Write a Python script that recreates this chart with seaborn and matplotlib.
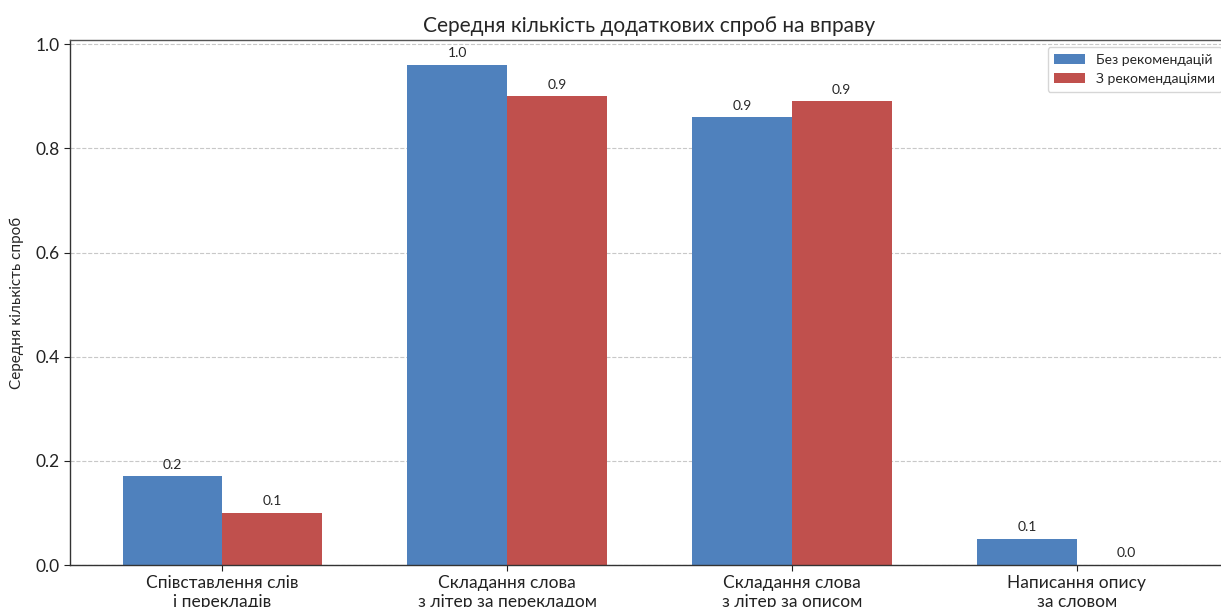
import matplotlib
matplotlib.use("Agg")
import matplotlib.pyplot as plt
import seaborn as sns
import pandas as pd

categories = [
    "Співставлення слів\nі перекладів",
    "Складання слова\nз літер за перекладом",
    "Складання слова\nз літер за описом",
    "Написання опису\nза словом",
]
without_recs = [0.17, 0.96, 0.86, 0.05]
with_recs = [0.10, 0.90, 0.89, 0.00]
series_names = ["Без рекомендацій", "З рекомендаціями"]
colors = ["#4f81bd", "#c0504d"]

df = pd.DataFrame({
    "Вправа": categories * 2,
    "Значення": without_recs + with_recs,
    "Група": [series_names[0]] * 4 + [series_names[1]] * 4,
})

sns.set_theme(style="white")
plt.rcParams["font.family"] = ["Lato", "DejaVu Sans"]

fig = plt.figure(figsize=(12.21, 6.07), dpi=100)
ax = fig.add_axes([70 / 1221, 42 / 607, 1159 / 1221, 525 / 607])

sns.barplot(data=df, x="Вправа", y="Значення", hue="Група",
            palette=colors, width=0.7, saturation=1, ax=ax, errorbar=None,
            linewidth=0, edgecolor="none")

for cont in ax.containers:
    ax.bar_label(cont, fmt="%.1f", padding=4, fontsize=10)

ax.set_xlim(-0.535, 3.535)
ax.set_ylim(0, 1.008)
ax.set_yticks([0.0, 0.2, 0.4, 0.6, 0.8, 1.0])
ax.yaxis.grid(True, linestyle="--", color="#c8c8c8", linewidth=0.8)
ax.set_axisbelow(True)

ax.set_title("Середня кількість додаткових спроб на вправу", fontsize=15, pad=6)
ax.set_xlabel("")
ax.set_ylabel("Середня кількість спроб", fontsize=11, labelpad=8)
ax.tick_params(axis="both", labelsize=12.5, length=4, width=0.8, colors="#222222",
               bottom=True, left=True)

for side in ["left", "bottom", "top", "right"]:
    ax.spines[side].set_visible(True)
    ax.spines[side].set_color("#333333")
    ax.spines[side].set_linewidth(1.0)
ax.spines["top"].set_color("#555555")

leg = ax.legend(loc="upper right", fontsize=10, frameon=True, title=None,
                borderpad=0.5, handlelength=2.2)
leg.get_frame().set_edgecolor("#cccccc")

fig.savefig("out.png", dpi=100)
